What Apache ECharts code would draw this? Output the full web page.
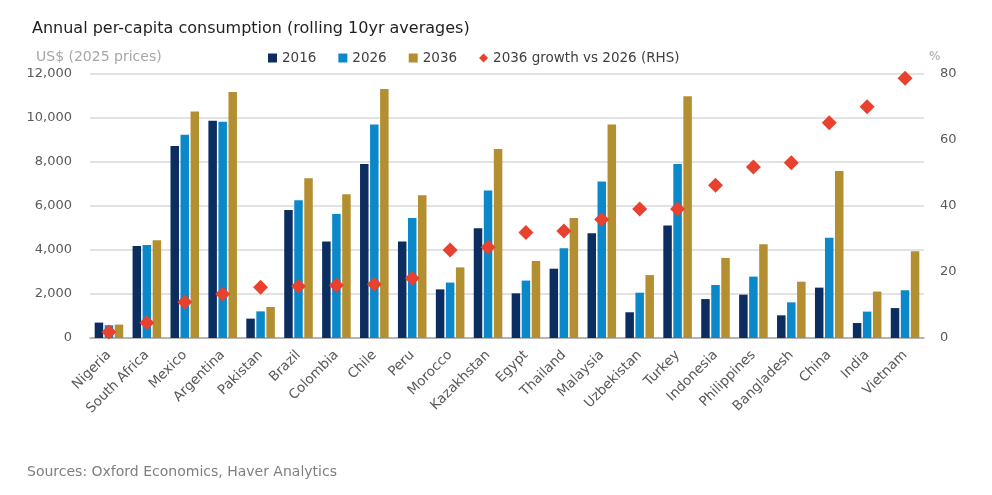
<!DOCTYPE html>
<html>
<head>
    <meta charset="utf-8">
    <script type="text/javascript" src="https://cdn.jsdelivr.net/npm/echarts@6/dist/echarts.min.js"></script>
    <style type="text/css">
        * {
            margin: 0;
            padding: 0;
        }
        body {
            background: #ffffff;
        }
        #container {
            width: 992px;
            height: 495px;
        }
    </style>
</head>
<body>
<div id="container"></div>

<script type="text/javascript">

    //国家
    var countries = ['Nigeria', 'South Africa', 'Mexico', 'Argentina', 'Pakistan', 'Brazil', 'Colombia',
        'Chile', 'Peru', 'Morocco', 'Kazakhstan', 'Egypt', 'Thailand', 'Malaysia', 'Uzbekistan', 'Turkey',
        'Indonesia', 'Philippines', 'Bangladesh', 'China', 'India', 'Vietnam'];
    //人均消费 US$ (2025 prices)
    var v2016 = [700, 4180, 8730, 9870, 880, 5820, 4390, 7910, 4390, 2210, 4990,
        2030, 3150, 4760, 1170, 5110, 1770, 1970, 1030, 2290, 680, 1360];
    var v2026 = [580, 4230, 9240, 9830, 1210, 6260, 5640, 9710, 5460, 2520, 6710,
        2610, 4080, 7110, 2060, 7910, 2410, 2790, 1620, 4560, 1200, 2170];
    var v2036 = [610, 4440, 10290, 11180, 1410, 7260, 6530, 11320, 6490, 3210, 8590,
        3500, 5450, 9700, 2860, 10990, 3640, 4260, 2560, 7590, 2110, 3940];
    //2036 vs 2026 增长 (%)
    var growth = [1.8, 4.6, 10.9, 13.3, 15.4, 15.7, 16.0, 16.3, 18.1, 26.7, 27.5,
        32.0, 32.4, 35.9, 39.1, 39.1, 46.3, 51.8, 53.1, 65.2, 70.1, 78.7];

    var fontName = '"DejaVu Sans", Inter, sans-serif';
    var colors = ['#0b2d5f', '#0a88c9', '#b38f32', '#e8412f'];

    function barSeries(name, data, color) {
        return {
            name: name,
            type: 'bar',
            yAxisIndex: 0,
            data: data,
            barWidth: 8.5,
            barGap: '18%',
            itemStyle: {color: color},
            emphasis: {disabled: true}
        };
    }

    var dom = document.getElementById('container');
    var myChart = echarts.init(dom, null, {renderer: 'canvas'});

    var option = {
        animation: false,
        color: colors,
        textStyle: {fontFamily: fontName},
        title: [
            {
                text: 'Annual per-capita consumption (rolling 10yr averages)',
                left: 27,
                top: 16,
                textStyle: {color: '#1f1f1f', fontSize: 16, fontWeight: 'normal', fontFamily: fontName}
            },
            {
                text: 'US$ (2025 prices)',
                left: 31,
                top: 45,
                textStyle: {color: '#a6a6a6', fontSize: 14, fontWeight: 'normal', fontFamily: fontName}
            },
            {
                text: '%',
                left: 924,
                top: 46,
                textStyle: {color: '#a6a6a6', fontSize: 12, fontWeight: 'normal', fontFamily: fontName}
            },
            {
                text: 'Sources: Oxford Economics, Haver Analytics',
                left: 22,
                top: 460,
                textStyle: {color: '#7f7f7f', fontSize: 14, fontWeight: 'normal', fontFamily: fontName}
            }
        ],
        legend: {
            left: 263,
            top: 46,
            itemWidth: 9,
            itemHeight: 9,
            itemGap: 22,
            textStyle: {color: '#404040', fontSize: 13.5, fontFamily: fontName},
            data: [
                {name: '2016', icon: 'rect'},
                {name: '2026', icon: 'rect'},
                {name: '2036', icon: 'rect'},
                {name: '2036 growth vs 2026 (RHS)', icon: 'diamond'}
            ]
        },
        grid: {
            left: 90,
            right: 68,
            top: 74,
            bottom: 157,
            containLabel: false
        },
        xAxis: {
            type: 'category',
            data: countries,
            axisLine: {show: true, lineStyle: {color: '#a6a6a6', width: 1.5}},
            axisTick: {show: false},
            axisLabel: {
                interval: 0,
                rotate: 45,
                margin: 15,
                color: '#595959',
                fontSize: 13.5,
                fontFamily: fontName
            }
        },
        yAxis: [
            {
                type: 'value',
                min: 0,
                max: 12000,
                interval: 2000,
                axisLine: {show: false},
                axisTick: {show: false},
                splitLine: {lineStyle: {color: '#d9d9d9', width: 1.5}},
                axisLabel: {
                    margin: 18,
                    color: '#595959',
                    fontSize: 13,
                    fontFamily: fontName,
                    formatter: function (v) {
                        return v.toLocaleString('en-US');
                    }
                }
            },
            {
                type: 'value',
                min: 0,
                max: 80,
                interval: 20,
                position: 'right',
                axisLine: {show: false},
                axisTick: {show: false},
                splitLine: {show: false},
                axisLabel: {
                    margin: 16,
                    color: '#595959',
                    fontSize: 13,
                    fontFamily: fontName
                }
            }
        ],
        series: [
            barSeries('2016', v2016, colors[0]),
            barSeries('2026', v2026, colors[1]),
            barSeries('2036', v2036, colors[2]),
            {
                name: '2036 growth vs 2026 (RHS)',
                type: 'scatter',
                yAxisIndex: 1,
                data: growth,
                symbol: 'diamond',
                symbolSize: [15, 15],
                itemStyle: {color: colors[3], opacity: 1},
                z: 5
            }
        ]
    };

    myChart.setOption(option, true);
</script>
</body>
</html>
